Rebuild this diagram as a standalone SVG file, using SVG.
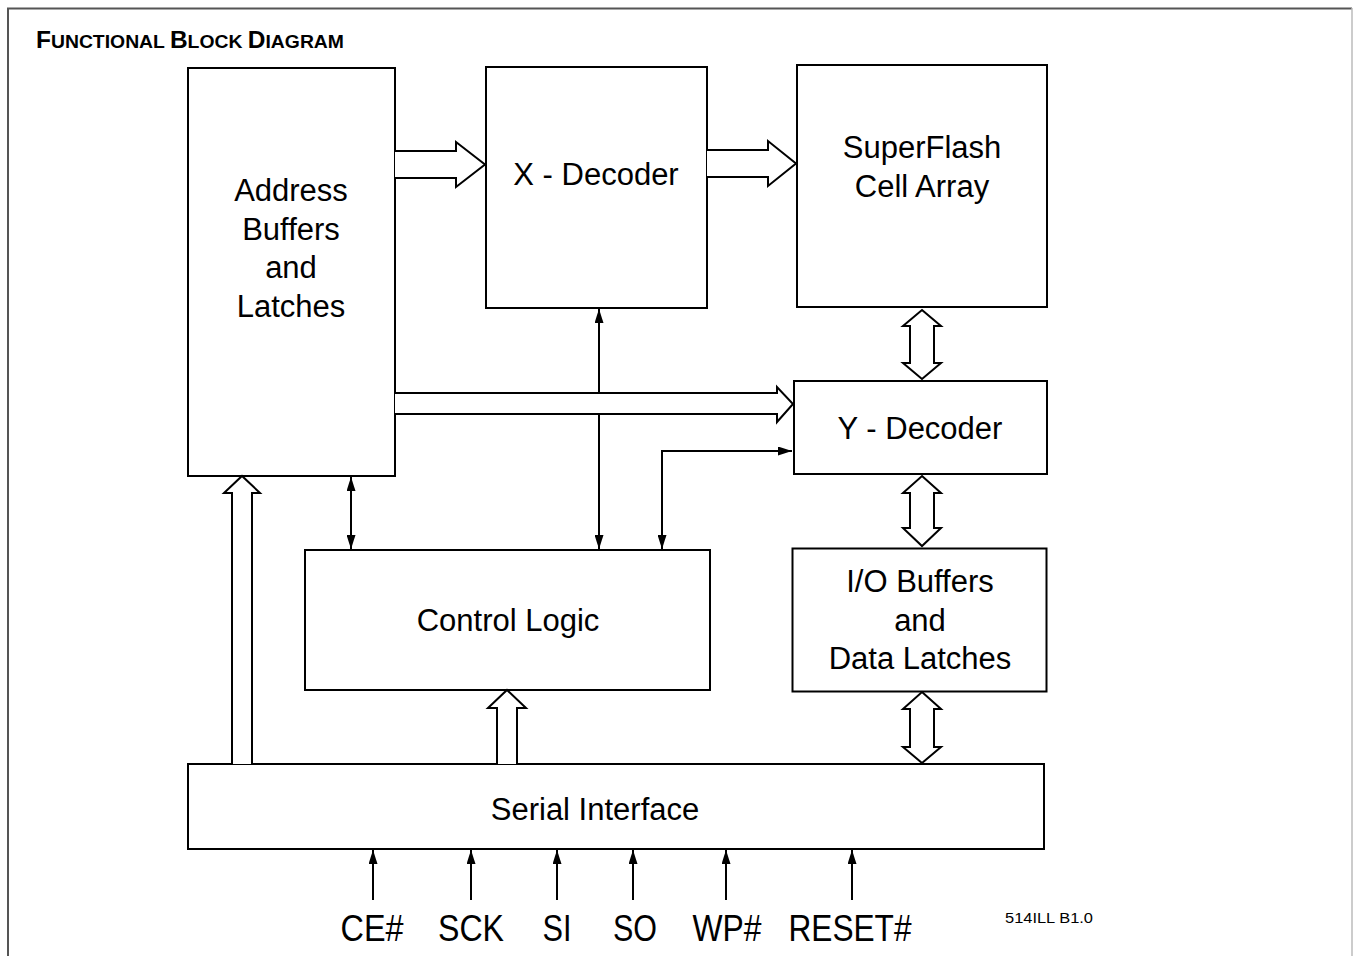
<svg xmlns="http://www.w3.org/2000/svg" width="1353" height="956" viewBox="0 0 1353 956">
<style>
.box{fill:#fff;stroke:#000;stroke-width:2}
.bus{fill:#fff;stroke:#000;stroke-width:2;stroke-linejoin:miter}
.ln{fill:none;stroke:#000;stroke-width:2}
.lbl{font-family:"Liberation Sans",Arial,sans-serif;font-size:31px;text-anchor:middle;fill:#000}
.pin{font-family:"Liberation Sans",Arial,sans-serif;font-size:37px;text-anchor:middle;fill:#000}
</style>
<defs>
<marker id="ah" viewBox="0 0 14 9" refX="14" refY="4.5" markerWidth="14" markerHeight="9" markerUnits="userSpaceOnUse" orient="auto-start-reverse">
<path d="M0,0 L14,4.5 L0,9 z" fill="#000"/>
</marker>
</defs>
<rect width="1353" height="956" fill="#fff"/>
<g id="frame">
<path d="M8,956 L8,8.5 L1352,8.5" fill="none" stroke="#555" stroke-width="2"/>
<line x1="1352" y1="8" x2="1352" y2="956" stroke="#bbb" stroke-width="1.5"/>
</g>
<text x="36" y="48" font-family="&quot;Liberation Sans&quot;,Arial,sans-serif" font-weight="bold" fill="#000" textLength="308" lengthAdjust="spacingAndGlyphs"><tspan font-size="24">F</tspan><tspan font-size="19">UNCTIONAL </tspan><tspan font-size="24">B</tspan><tspan font-size="19">LOCK </tspan><tspan font-size="24">D</tspan><tspan font-size="19">IAGRAM</tspan></text>

<g id="address">
<rect class="box" x="188" y="68" width="207" height="408"/>
<text class="lbl" x="291" y="201">Address</text>
<text class="lbl" x="291" y="240">Buffers</text>
<text class="lbl" x="291" y="278">and</text>
<text class="lbl" x="291" y="317">Latches</text>
</g>
<g id="xdecoder">
<rect class="box" x="486" y="67" width="221" height="241"/>
<text class="lbl" x="596" y="185">X - Decoder</text>
</g>
<g id="superflash">
<rect class="box" x="797" y="65" width="250" height="242"/>
<text class="lbl" x="922" y="158">SuperFlash</text>
<text class="lbl" x="922" y="197">Cell Array</text>
</g>
<g id="ydecoder">
<rect class="box" x="794" y="381" width="253" height="93"/>
<text class="lbl" x="920" y="439">Y - Decoder</text>
</g>
<g id="control">
<rect class="box" x="305" y="550" width="405" height="140"/>
<text class="lbl" x="508" y="631">Control Logic</text>
</g>
<g id="iobuffers">
<rect class="box" x="792.5" y="548.5" width="254" height="143"/>
<text class="lbl" x="920" y="592">I/O Buffers</text>
<text class="lbl" x="920" y="631">and</text>
<text class="lbl" x="920" y="669">Data Latches</text>
</g>
<g id="serial">
<rect class="box" x="188" y="764" width="856" height="85"/>
<text class="lbl" x="595" y="820">Serial Interface</text>
</g>

<g id="connectors">
<!-- hollow bus arrows -->
<path class="bus" d="M395,151 L456,151 L456,142 L485,164.5 L456,187 L456,178 L395,178"/>
<path class="bus" d="M707,150 L768,150 L768,141 L796,163.5 L768,186 L768,177 L707,177"/>
<path class="bus" d="M395,393 L777,393 L777,387 L793,404 L777,422 L777,414 L395,414"/>
<path class="bus" d="M232,764 L232,493 L224,493 L242,476 L260,493 L252,493 L252,764"/>
<path class="bus" d="M497,764 L497,708 L488,708 L507,690 L526,708 L517,708 L517,764"/>
<path class="bus" d="M922,310 L941,326 L934,326 L934,363 L941,363 L922,379 L903,363 L910,363 L910,326 L903,326 Z"/>
<path class="bus" d="M922,476 L941,493 L934,493 L934,528 L941,528 L922,546 L903,528 L910,528 L910,493 L903,493 Z"/>
<path class="bus" d="M922,692 L941,709 L934,709 L934,747 L941,747 L922,763 L903,747 L910,747 L910,709 L903,709 Z"/>
<!-- thin arrows -->
<line class="ln" x1="599" y1="393" x2="599" y2="309" marker-end="url(#ah)"/>
<line class="ln" x1="599" y1="414" x2="599" y2="549" marker-end="url(#ah)"/>
<polyline class="ln" points="662,549 662,451 792,451" marker-start="url(#ah)" marker-end="url(#ah)"/>
<line class="ln" x1="351" y1="477" x2="351" y2="549" marker-start="url(#ah)" marker-end="url(#ah)"/>
<line class="ln" x1="373" y1="900" x2="373" y2="850" marker-end="url(#ah)"/>
<line class="ln" x1="471" y1="900" x2="471" y2="850" marker-end="url(#ah)"/>
<line class="ln" x1="557" y1="900" x2="557" y2="850" marker-end="url(#ah)"/>
<line class="ln" x1="633" y1="900" x2="633" y2="850" marker-end="url(#ah)"/>
<line class="ln" x1="726" y1="900" x2="726" y2="850" marker-end="url(#ah)"/>
<line class="ln" x1="852" y1="900" x2="852" y2="850" marker-end="url(#ah)"/>
</g>

<g id="pins">
<text class="pin" x="372" y="941" textLength="63" lengthAdjust="spacingAndGlyphs">CE#</text>
<text class="pin" x="471" y="941" textLength="66" lengthAdjust="spacingAndGlyphs">SCK</text>
<text class="pin" x="557" y="941" textLength="29" lengthAdjust="spacingAndGlyphs">SI</text>
<text class="pin" x="635" y="941" textLength="44" lengthAdjust="spacingAndGlyphs">SO</text>
<text class="pin" x="727" y="941" textLength="69" lengthAdjust="spacingAndGlyphs">WP#</text>
<text class="pin" x="850" y="941" textLength="123" lengthAdjust="spacingAndGlyphs">RESET#</text>
</g>
<text x="1005" y="923" font-family="&quot;Liberation Sans&quot;,Arial,sans-serif" font-size="14" fill="#000" textLength="88" lengthAdjust="spacingAndGlyphs">514ILL B1.0</text>
</svg>
